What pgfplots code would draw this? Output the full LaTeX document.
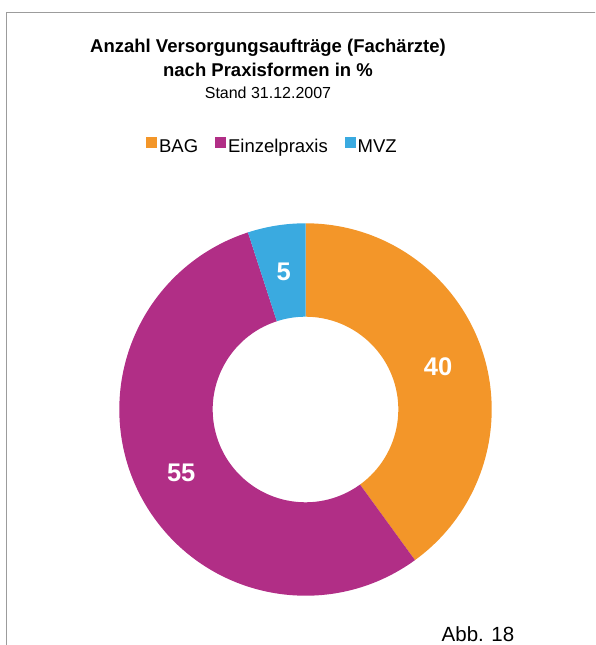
\documentclass[border=0pt]{standalone}
\usepackage{fontspec}
\setmainfont{Liberation Sans}
\usepackage{pgfplots}
\pgfplotsset{compat=1.18}
\usepackage{pgfplotstable}
\usetikzlibrary{calc}
\definecolor{bag}{HTML}{F39629}
\definecolor{einzel}{HTML}{B12E86}
\definecolor{mvz}{HTML}{3AAAE0}
\definecolor{frame}{HTML}{9C9C9C}
\pgfplotstableread{
label value
BAG 40
Einzelpraxis 55
MVZ 5
}\shares
\begin{document}
\begin{tikzpicture}[x=1pt,y=1pt]
\useasboundingbox (0,0) rectangle (595,645);
\begin{scope}
\clip (0,0) rectangle (595,645);
\draw[line width=1.3pt, color=frame] (6.5,-5) -- (6.5,632.3) -- (600,632.3);
\end{scope}
\node[anchor=base, font=\fontsize{18.5}{22}\selectfont\bfseries] at (268,592) {Anzahl Versorgungsaufträge (Fachärzte)};
\node[anchor=base, font=\fontsize{18.5}{22}\selectfont\bfseries] at (268,568.3) {nach Praxisformen in \%};
\node[anchor=base, font=\fontsize{16}{19}\selectfont] at (268,546) {Stand 31.12.2007};
\node[anchor=base west, inner sep=0pt, font=\fontsize{20.5}{24}\selectfont] at (441.5,4) {Abb. 18};
\pgfplotstablegetelem{0}{value}\of\shares \edef\va{\pgfplotsretval}
\pgfplotstablegetelem{1}{value}\of\shares \edef\vb{\pgfplotsretval}
\pgfplotstablegetelem{2}{value}\of\shares \edef\vc{\pgfplotsretval}
\pgfmathsetmacro{\aA}{90}
\pgfmathsetmacro{\aB}{\aA-3.6*\va}
\pgfmathsetmacro{\aC}{\aB-3.6*\vb}
\pgfmathsetmacro{\aD}{\aC-3.6*\vc}
\pgfmathsetmacro{\mA}{(\aA+\aB)/2}
\pgfmathsetmacro{\mB}{(\aB+\aC)/2}
\pgfmathsetmacro{\mC}{(\aC+\aD)/2}
\begin{axis}[at={(305.5pt,235.5pt)}, anchor=center, scale only axis,
  width=372.4pt, height=372.4pt, xmin=-1, xmax=1, ymin=-1, ymax=1,
  hide axis, clip=false,
  legend columns=3,
  legend style={draw=none, fill=none, font=\fontsize{18.5}{22}\selectfont,
    at={(axis description cs:0.4087,1.209)}, anchor=center,
    nodes={inner sep=0pt},
    /tikz/every odd column/.append style={column sep=0pt},
    /tikz/every even column/.append style={column sep=17pt}},
  legend image code/.code={\fill[#1] (0pt,-0.5pt) rectangle (10pt,9.5pt);}]
\addlegendimage{bag}\addlegendentry{\hspace{2.5pt}BAG}
\addlegendimage{einzel}\addlegendentry{\hspace{2.5pt}Einzelpraxis}
\addlegendimage{mvz}\addlegendentry{\hspace{2.5pt}MVZ}
\fill[bag] ($(axis cs:0,0)+(\aA:186.2pt)$) arc[start angle=\aA, end angle=\aB, radius=186.2pt] -- ($(axis cs:0,0)+(\aB:92.8pt)$) arc[start angle=\aB, end angle=\aA, radius=92.8pt] -- cycle;
\fill[einzel] ($(axis cs:0,0)+(\aB:186.2pt)$) arc[start angle=\aB, end angle=\aC, radius=186.2pt] -- ($(axis cs:0,0)+(\aC:92.8pt)$) arc[start angle=\aC, end angle=\aB, radius=92.8pt] -- cycle;
\fill[mvz] ($(axis cs:0,0)+(\aC:186.2pt)$) arc[start angle=\aC, end angle=\aD, radius=186.2pt] -- ($(axis cs:0,0)+(\aD:92.8pt)$) arc[start angle=\aD, end angle=\aC, radius=92.8pt] -- cycle;
\node[white, font=\fontsize{25.5}{30}\selectfont\bfseries] at ($(axis cs:0,0)+(\mA:139.5pt)$) {\va};
\node[white, font=\fontsize{25.5}{30}\selectfont\bfseries] at ($(axis cs:0,0)+(\mB:139.5pt)$) {\vb};
\node[white, font=\fontsize{25.5}{30}\selectfont\bfseries] at ($(axis cs:0,0)+(\mC:139.5pt)$) {\vc};
\end{axis}
\end{tikzpicture}
\end{document}
